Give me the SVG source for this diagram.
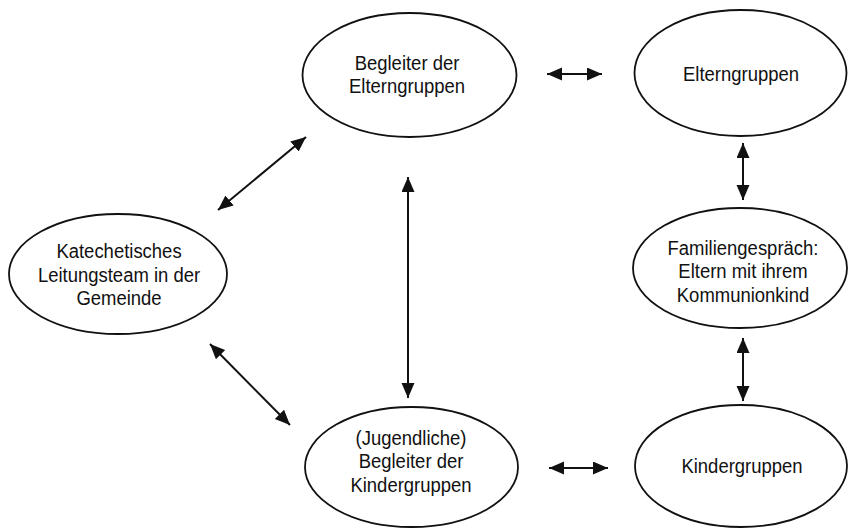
<svg xmlns="http://www.w3.org/2000/svg" width="848" height="529" viewBox="0 0 848 529">
<style>
.n ellipse{fill:#fff;stroke:#111;stroke-width:1.8}
.n text{font-family:"Liberation Sans",Arial,sans-serif;font-size:21px;fill:#111;text-anchor:middle}
#edges line{stroke:#111;stroke-width:2;marker-start:url(#ah);marker-end:url(#ah)}
</style>
<defs>
<marker id="ah" markerUnits="userSpaceOnUse" markerWidth="16" markerHeight="14" refX="15" refY="6.5" orient="auto-start-reverse">
<path d="M0,0 L15,6.5 L0,13 Z" fill="#111"/>
</marker>
</defs>
<rect width="848" height="529" fill="#fff"/>
<g id="begleiter-eltern" class="n">
<ellipse cx="409.5" cy="75" rx="107" ry="62"/>
<g transform="translate(407,0) scale(0.88,1)"><text x="0" y="70">Begleiter der</text><text x="0" y="93.5">Elterngruppen</text></g>
</g>
<g id="elterngruppen" class="n">
<ellipse cx="740.5" cy="73" rx="106" ry="63"/>
<g transform="translate(741,0) scale(0.88,1)"><text x="0" y="81">Elterngruppen</text></g>
</g>
<g id="leitungsteam" class="n">
<ellipse cx="118" cy="274" rx="109" ry="60"/>
<g transform="translate(119,0) scale(0.88,1)"><text x="0" y="258.5">Katechetisches</text><text x="0" y="282">Leitungsteam in der</text><text x="0" y="305.5">Gemeinde</text></g>
</g>
<g id="familiengespraech" class="n">
<ellipse cx="740" cy="268" rx="107" ry="60"/>
<g transform="translate(743,0) scale(0.88,1)"><text x="0" y="255">Familiengespräch:</text><text x="0" y="278.5">Eltern mit ihrem</text><text x="0" y="302">Kommunionkind</text></g>
</g>
<g id="begleiter-kinder" class="n">
<ellipse cx="411.5" cy="467" rx="106.5" ry="60"/>
<g transform="translate(411,0) scale(0.88,1)"><text x="0" y="445">(Jugendliche)</text><text x="0" y="468.5">Begleiter der</text><text x="0" y="492">Kindergruppen</text></g>
</g>
<g id="kindergruppen" class="n">
<ellipse cx="741" cy="466" rx="106" ry="61"/>
<g transform="translate(742,0) scale(0.88,1)"><text x="0" y="473">Kindergruppen</text></g>
</g>
<g id="edges">
<line x1="547" y1="74" x2="602" y2="74"/>
<line x1="549" y1="468" x2="608" y2="468"/>
<line x1="743" y1="143" x2="743" y2="200"/>
<line x1="743" y1="338" x2="743" y2="401"/>
<line x1="408" y1="177" x2="408" y2="398"/>
<line x1="218" y1="210" x2="306" y2="137"/>
<line x1="210" y1="344" x2="290" y2="425"/>
</g>
</svg>
